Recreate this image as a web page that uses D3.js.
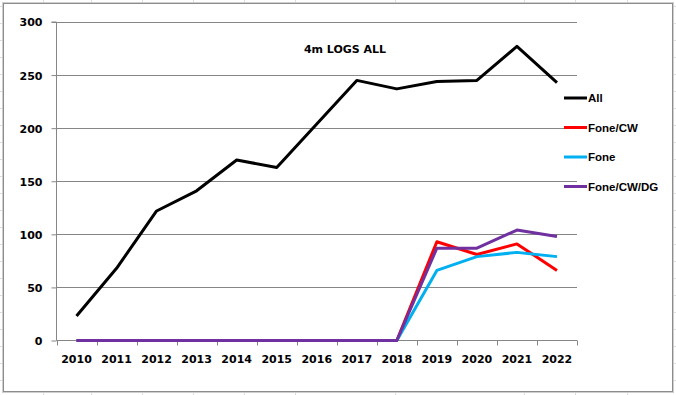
<!DOCTYPE html>
<html>
<head>
<meta charset="utf-8">
<script src="https://cdn.jsdelivr.net/npm/d3@7"></script>
<style>
  body { margin: 0; background: #fff; }
  svg { display: block; }
  .tick-label { font-family: "DejaVu Sans", Verdana, sans-serif; font-weight: bold; font-size: 11px; fill: #000; }
  .legend-label { font-family: "Liberation Sans", Arial, sans-serif; font-weight: bold; font-size: 11.5px; fill: #000; }
</style>
</head>
<body>
<svg id="chart" width="676" height="395"></svg>
<script>
// data
const years = ["2010", "2011", "2012", "2013", "2014", "2015", "2016", "2017", "2018", "2019", "2020", "2021", "2022"];
const allLogs = [23, 68, 122, 141, 170, 163, 204, 245, 237, 244, 245, 277, 243];
const foneCW = [0, 0, 0, 0, 0, 0, 0, 0, 0, 93, 81, 91, 66];
const fone = [0, 0, 0, 0, 0, 0, 0, 0, 0, 66, 79, 83, 79];
const foneCWDG = [0, 0, 0, 0, 0, 0, 0, 0, 0, 87, 87, 104, 98];
const seriesNames = ["All", "Fone/CW", "Fone", "Fone/CW/DG"];
const seriesColors = ["#000000", "#ff0000", "#00b0f0", "#7030a0"];
const yTicks = [0, 50, 100, 150, 200, 250, 300];
const chartTitle = "4m LOGS ALL";

const series = [allLogs, foneCW, fone, foneCWDG];

const svg = d3.select('#chart');
const plot = { left: 56.5, right: 577, top: 22, bottom: 340.5 };

// faint spreadsheet cells peeking out round the chart box
const cellCols = [43, 91, 142, 193, 244, 295, 395, 524, 575, 627];
const bg = svg.append('g').attr('stroke', '#dcdcdc');
bg.selectAll('.col')
  .data(cellCols)
  .join('line')
  .attr('x1', d => d + 0.5).attr('x2', d => d + 0.5)
  .attr('y1', 0).attr('y2', 395);
bg.selectAll('.row')
  .data(d3.range(6, 395, 17))
  .join('line')
  .attr('x1', 0).attr('x2', 676)
  .attr('y1', d => d + 0.5).attr('y2', d => d + 0.5);

// chart box
svg.append('rect')
  .attr('x', 2.5).attr('y', 2.5)
  .attr('width', 671).attr('height', 390)
  .attr('fill', 'none')
  .attr('stroke', '#cfcfcf');
svg.append('rect')
  .attr('x', 3.5).attr('y', 3.5)
  .attr('width', 669).attr('height', 388)
  .attr('fill', '#fff')
  .attr('stroke', '#8c8c8c');

const x = d3.scaleBand().domain(years).range([plot.left, plot.right]).padding(0);
const y = d3.scaleLinear().domain([0, 300]).range([plot.bottom, plot.top]);

// gridlines
svg.append('g')
  .selectAll('line')
  .data(yTicks.filter(d => d > 0))
  .join('line')
  .attr('x1', plot.left).attr('x2', plot.right)
  .attr('y1', d => Math.round(y(d)) + 0.5).attr('y2', d => Math.round(y(d)) + 0.5)
  .attr('stroke', '#868686');

// y axis
const axisY = d3.axisLeft(y).tickValues(yTicks).tickSize(5).tickPadding(9);
const gy = svg.append('g')
  .attr('transform', `translate(${plot.left},0)`)
  .call(axisY);
gy.select('.domain').attr('stroke', '#868686').attr('d', `M-5,${y(300)}H0V${y(0)}`);
gy.selectAll('.tick line').attr('stroke', '#868686');
gy.selectAll('.tick text').attr('class', 'tick-label').attr('dy', '0.36em');

// x axis: ticks sit between categories
const gx = svg.append('g');
gx.append('line')
  .attr('x1', plot.left).attr('x2', plot.right)
  .attr('y1', plot.bottom).attr('y2', plot.bottom)
  .attr('stroke', '#868686');
const boundaries = years.map(d => x(d)).concat([x(years[years.length - 1]) + x.bandwidth()]);
gx.selectAll('.xtick')
  .data(boundaries)
  .join('line')
  .attr('class', 'xtick')
  .attr('x1', d => Math.round(d) + 0.5).attr('x2', d => Math.round(d) + 0.5)
  .attr('y1', plot.bottom).attr('y2', plot.bottom + 5)
  .attr('stroke', '#868686');
gx.selectAll('.xlabel')
  .data(years)
  .join('text')
  .attr('class', 'tick-label')
  .attr('x', d => x(d) + x.bandwidth() / 2)
  .attr('y', 363)
  .attr('text-anchor', 'middle')
  .text(d => d);

// lines
const line = d3.line()
  .x((d, i) => x(years[i]) + x.bandwidth() / 2)
  .y(d => y(d));

svg.append('g')
  .selectAll('path')
  .data(series)
  .join('path')
  .attr('d', d => line(d))
  .attr('fill', 'none')
  .attr('stroke', (d, i) => seriesColors[i])
  .attr('stroke-width', 3)
  .attr('stroke-linejoin', 'round');

// title
svg.append('text')
  .attr('class', 'tick-label')
  .attr('x', 345)
  .attr('y', 53)
  .attr('text-anchor', 'middle')
  .text(chartTitle);

// legend
const legend = svg.append('g')
  .selectAll('g')
  .data(seriesNames)
  .join('g')
  .attr('transform', (d, i) => `translate(564,${98 + i * 29.5})`);
legend.append('line')
  .attr('x1', 0).attr('x2', 23)
  .attr('stroke', (d, i) => seriesColors[i])
  .attr('stroke-width', 3);
legend.append('text')
  .attr('class', 'legend-label')
  .attr('x', 24)
  .attr('dy', '0.36em')
  .text(d => d);
</script>
</body>
</html>
